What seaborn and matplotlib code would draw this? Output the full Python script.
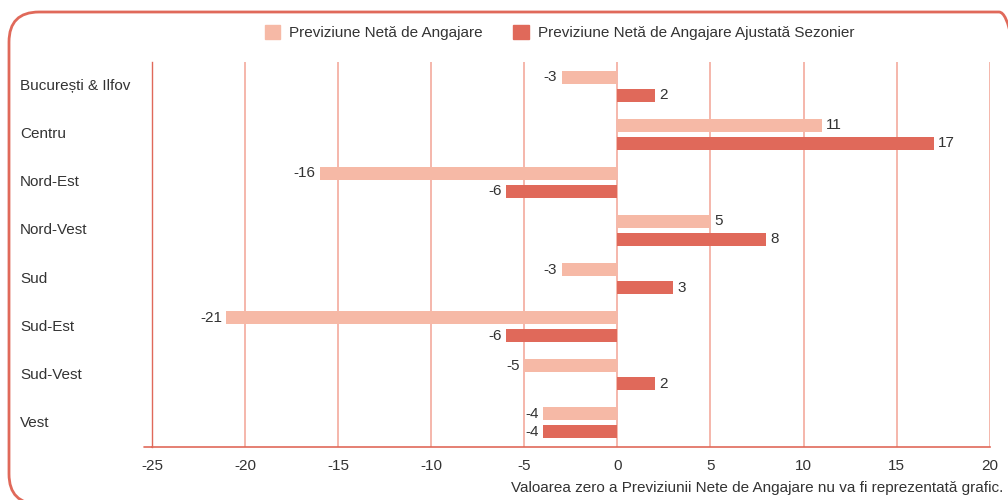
import pandas as pd
import matplotlib.pyplot as plt
import seaborn as sns
from matplotlib.patches import FancyBboxPatch, Patch

# === Data ===
regions = ["București & Ilfov", "Centru", "Nord-Est", "Nord-Vest",
           "Sud", "Sud-Est", "Sud-Vest", "Vest"]
neo = [-3, 11, -16, 5, -3, -21, -5, -4]
neo_sa = [2, 17, -6, 8, 3, -6, 2, -4]
series = ["Previziune Netă de Angajare",
          "Previziune Netă de Angajare Ajustată Sezonier"]
xticks = [-25, -20, -15, -10, -5, 0, 5, 10, 15, 20]

df = pd.DataFrame({
    "Regiune": regions * 2,
    "Valoare": neo + neo_sa,
    "Serie": [series[0]] * len(regions) + [series[1]] * len(regions),
})

light = "#f6b9a6"
dark = "#e0695a"
grid_c = "#f3aa9d"
text_c = "#333333"

sns.set_style("white")
plt.rcParams["font.family"] = ["Liberation Sans", "DejaVu Sans"]

fig = plt.figure(figsize=(10.08, 5), dpi=100)
ax = fig.add_axes([0.1508, 0.106, 0.831, 0.770])

sns.barplot(data=df, y="Regiune", x="Valoare", hue="Serie", order=regions,
            hue_order=series, palette=[light, dark], orient="h", saturation=1,
            width=0.75, gap=0.28, linewidth=0, ax=ax, legend=False)

for c in ax.containers:
    ax.bar_label(c, padding=3, fontsize=11, color=text_c)

ax.set_xlim(-25, 20)
ax.set_ylim(len(regions) - 0.5, -0.5)
ax.set_xticks(xticks)
ax.set_xticklabels([str(t) for t in xticks], fontsize=11, color=text_c)
ax.xaxis.grid(True, color=grid_c, linewidth=1.2)
ax.set_axisbelow(True)
ax.set_xlabel("")
ax.set_ylabel("")

# y labels left-aligned at the figure edge, boundary ticks on the spine
ax.set_yticks(range(len(regions)))
ax.set_yticklabels([])
ax.set_yticks([i + 0.5 for i in range(-1, len(regions) - 1)], minor=True)
ax.tick_params(axis="y", which="major", length=0)
ax.tick_params(axis="y", which="minor", length=4, color=dark, width=1, direction="out")
ax.tick_params(axis="x", length=5, color=dark, width=1, direction="out", pad=4)
trans = ax.get_yaxis_transform()
for i, r in enumerate(regions):
    ax.text(-0.1575, i, r, transform=trans, ha="left", va="center",
            fontsize=11, color=text_c)

for s in ["top", "right"]:
    ax.spines[s].set_visible(False)
ax.spines["left"].set_color(dark)
ax.spines["left"].set_linewidth(1)
ax.spines["bottom"].set_color(dark)
ax.spines["bottom"].set_linewidth(1.2)
# small overhang of the baseline to the left of the y axis
ax.plot([-0.01, 0], [0, 0], transform=ax.transAxes, color=dark, lw=1.2, clip_on=False)

# legend
handles = [Patch(color=light), Patch(color=dark)]
fig.legend(handles, series, loc="center", bbox_to_anchor=(0.555, 0.935), ncol=2,
           frameon=False, fontsize=11, handlelength=1.0, handleheight=1.0,
           columnspacing=2.0, handletextpad=0.6, labelcolor=text_c)

fig.text(0.995, 0.024, "Valoarea zero a Previziunii Nete de Angajare nu va fi reprezentată grafic.",
         ha="right", va="center", fontsize=11, color=text_c)

# rounded frame (runs off the right and bottom edges)
frame = FancyBboxPatch((0.09, -0.04), 10.2, 4.92, boxstyle="round,pad=0,rounding_size=0.3",
                       transform=fig.dpi_scale_trans, fill=False, edgecolor=dark,
                       linewidth=2)
fig.patches.append(frame)

plt.savefig("out.png", dpi=100)
